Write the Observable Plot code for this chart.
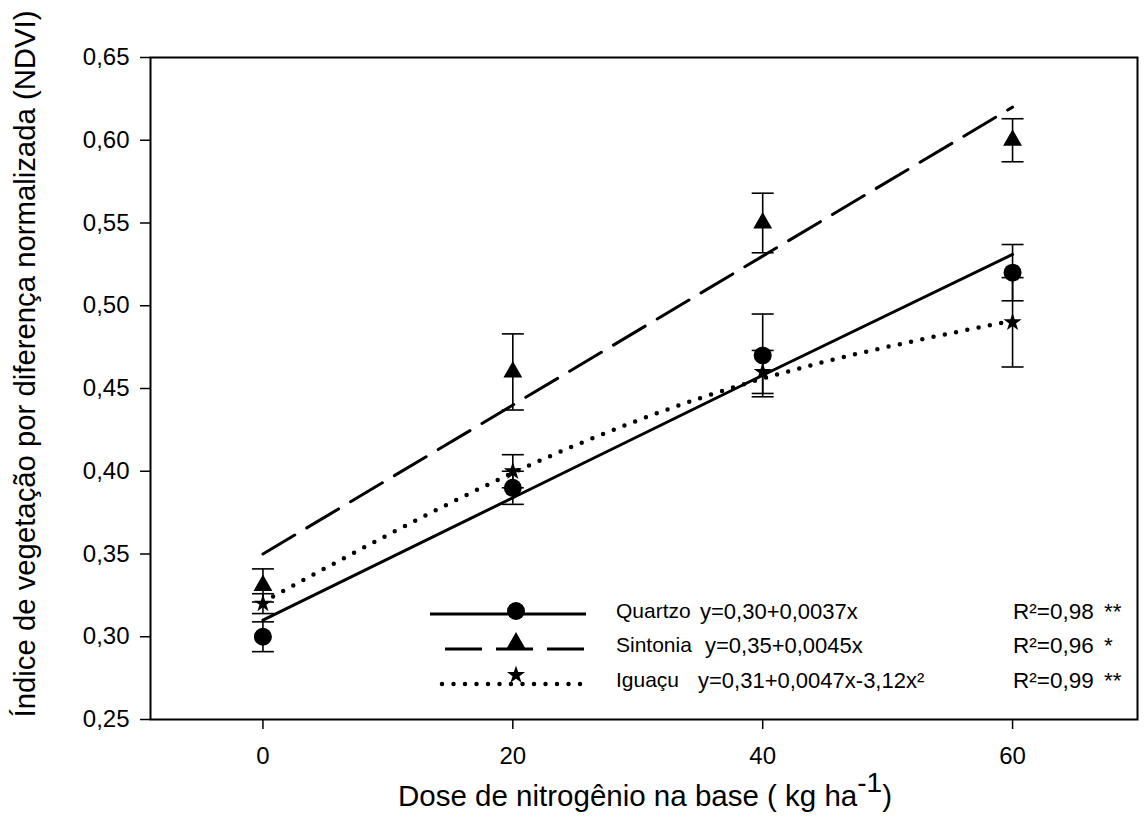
<!DOCTYPE html>
<html><head><meta charset="utf-8">
<script src="https://cdn.jsdelivr.net/npm/d3@7"></script>
<script src="https://cdn.jsdelivr.net/npm/@observablehq/plot@0.6"></script>
<style>
body{margin:0;background:#fff;font-family:"Liberation Sans",Arial,sans-serif}
#wrap{position:relative;width:1144px;height:827px}
#wrap svg{position:absolute;left:0;top:0}
</style>
</head><body><div id="wrap"></div>
<script>
// ---- data ----
const doses = [0, 20, 40, 60];
const seriesNames = ["Quartzo", "Sintonia", "Iguaçu"];
const quartzoMean = [0.30, 0.39, 0.47, 0.52];
const quartzoErr  = [0.009, 0.010, 0.025, 0.017];
const sintoniaMean = [0.331, 0.46, 0.55, 0.60];
const sintoniaErr  = [0.010, 0.023, 0.018, 0.013];
const iguacuMean = [0.32, 0.40, 0.46, 0.49];
const iguacuErr  = [0.006, 0.010, 0.013, 0.027];
const quartzoFit  = [0.31, 0.384, 0.458, 0.531];
const sintoniaFit = [0.35, 0.44, 0.53, 0.62];
const iguacuFit   = [0.321, 0.399, 0.456, 0.491];
const equations = ["y=0,30+0,0037x", "y=0,35+0,0045x", "y=0,31+0,0047x-3,12x²"];
const r2Labels = ["R²=0,98", "R²=0,96", "R²=0,99"];
const signif = ["**", "*", "**"];
const xTicks = [0, 20, 40, 60];
const yTicks = [0.25, 0.30, 0.35, 0.40, 0.45, 0.50, 0.55, 0.60, 0.65];

const table = (means, errs) => doses.map((d, i) => ({x: d, y: means[i], lo: means[i] - errs[i], hi: means[i] + errs[i]}));
const fitTable = (fit) => doses.map((d, i) => ({x: d, y: fit[i]}));
const Q = table(quartzoMean, quartzoErr), S = table(sintoniaMean, sintoniaErr), I = table(iguacuMean, iguacuErr);

const cap = {draw(ctx) { ctx.moveTo(-11, 0); ctx.lineTo(11, 0); }};
const fmt = d => d3.format(".2f")(d).replace(".", ",");

const errMarks = (T) => [
  Plot.ruleX(T, {x: "x", y1: "lo", y2: "hi", stroke: "black", strokeWidth: 1.6}),
  Plot.dot(T, {x: "x", y: "lo", symbol: cap, stroke: "black", strokeWidth: 1.6}),
  Plot.dot(T, {x: "x", y: "hi", symbol: cap, stroke: "black", strokeWidth: 1.6})
];

const chart = Plot.plot({
  width: 1144, height: 827,
  marginLeft: 150, marginRight: 7, marginTop: 57, marginBottom: 108,
  style: {fontFamily: '"Liberation Sans", Arial, sans-serif', fontSize: "24px", color: "black", background: "white"},
  x: {domain: [-9, 70]},
  y: {domain: [0.25, 0.65]},
  marks: [
    Plot.line(fitTable(quartzoFit), {x: "x", y: "y", stroke: "black", strokeWidth: 3}),
    Plot.line(fitTable(sintoniaFit), {x: "x", y: "y", stroke: "black", strokeWidth: 3, strokeDasharray: "37,14"}),
    Plot.line(fitTable(iguacuFit), {x: "x", y: "y", stroke: "black", strokeWidth: 4.5, strokeDasharray: "0,11.5", strokeLinecap: "round", curve: "natural"}),
    ...errMarks(Q), ...errMarks(S), ...errMarks(I),
    Plot.dot(Q, {x: "x", y: "y", symbol: "circle", r: 9, fill: "black"}),
    Plot.dot(S, {x: "x", y: "y", symbol: "triangle", r: 7, fill: "black"}),
    Plot.dot(I, {x: "x", y: "y", symbol: "star", r: 5.7, fill: "black"}),
    Plot.axisX({ticks: xTicks, tickSize: 10, tickPadding: 17, label: null, strokeWidth: 1.5, fontSize: 24}),
    Plot.axisY({ticks: yTicks, tickSize: 10, tickPadding: 11, tickFormat: fmt, label: null, strokeWidth: 1.5, fontSize: 24}),
    Plot.frame({stroke: "black", strokeWidth: 2})
  ]
});
document.getElementById("wrap").appendChild(chart);

// ---- axis titles and legend ----
const svg = d3.select("#wrap").append("svg").attr("width", 1144).attr("height", 827)
  .style("font-family", '"Liberation Sans", Arial, sans-serif').style("pointer-events", "none");

svg.append("text").attr("transform", "translate(35,364) rotate(-90)").attr("text-anchor", "middle")
  .attr("font-size", 29.3).text("Índice de vegetação por diferença normalizada (NDVI)");

const xl = svg.append("text").attr("x", 645).attr("y", 806).attr("text-anchor", "middle").attr("font-size", 29.5);
xl.append("tspan").text("Dose de nitrogênio na base ( kg ha");
xl.append("tspan").attr("dy", -14).attr("font-size", 28).text("-1");
xl.append("tspan").attr("dy", 14).text(")");

const rowsY = [611, 645, 680];
const lx1 = 430, lx2 = 586, mx = 516;
const g = svg.append("g");
// Quartzo
g.append("line").attr("x1", lx1).attr("x2", lx2).attr("y1", rowsY[0] + 3).attr("y2", rowsY[0] + 3).attr("stroke", "black").attr("stroke-width", 3);
g.append("circle").attr("cx", mx).attr("cy", rowsY[0]).attr("r", 9).attr("fill", "black");
// Sintonia
g.append("line").attr("x1", 445).attr("x2", 584).attr("y1", rowsY[1] + 4).attr("y2", rowsY[1] + 4).attr("stroke", "black").attr("stroke-width", 3).attr("stroke-dasharray", "37,14");
g.append("path").attr("d", d3.symbol(d3.symbolTriangle, Math.PI * 7 * 7)()).attr("transform", `translate(${mx},${rowsY[1] - 2})`).attr("fill", "black");
// Iguaçu
g.append("line").attr("x1", 442).attr("x2", 588).attr("y1", rowsY[2] + 4).attr("y2", rowsY[2] + 4).attr("stroke", "black").attr("stroke-width", 4.5).attr("stroke-dasharray", "0,11.5").attr("stroke-linecap", "round");
g.append("path").attr("d", d3.symbol(d3.symbolStar, Math.PI * 5.7 * 5.7)()).attr("transform", `translate(${mx},${rowsY[2] - 5})`).attr("fill", "black");

const eqX = [700, 705, 698];
seriesNames.forEach((n, i) => {
  g.append("text").attr("x", 616).attr("y", rowsY[i]).attr("dy", "0.35em").attr("font-size", 21).text(n);
  g.append("text").attr("x", eqX[i]).attr("y", rowsY[i]).attr("dy", "0.35em").attr("font-size", 22).text(equations[i]);
  g.append("text").attr("x", 1013).attr("y", rowsY[i]).attr("dy", "0.35em").attr("font-size", 22.5).text(r2Labels[i]);
  g.append("text").attr("x", 1104).attr("y", rowsY[i]).attr("dy", "0.35em").attr("font-size", 22.5).text(signif[i]);
});
</script>
</body></html>
